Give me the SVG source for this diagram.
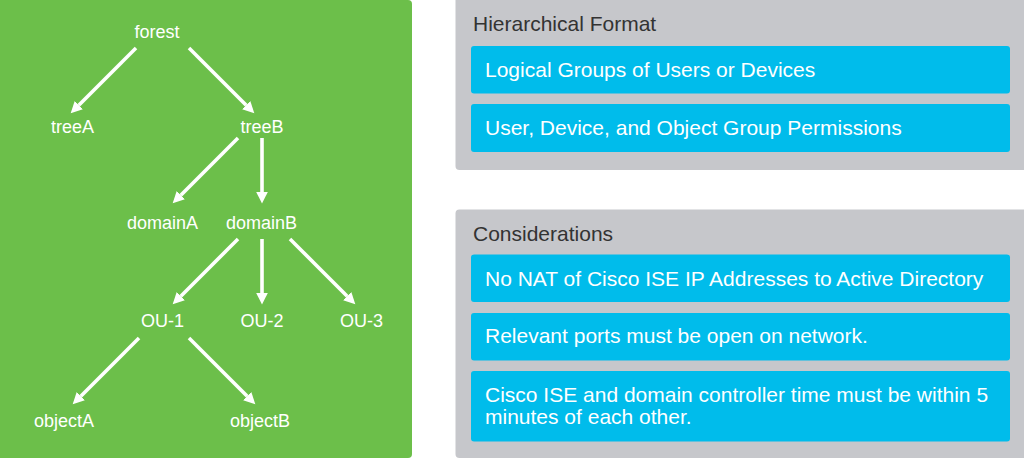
<svg xmlns="http://www.w3.org/2000/svg" width="1024" height="459" viewBox="0 0 1024 459">
<style>
.node{font-family:"Liberation Sans",Arial,sans-serif;font-size:18px;fill:#ffffff;text-anchor:middle}
.head{font-family:"Liberation Sans",Arial,sans-serif;font-size:21px;fill:#333333}
.item{font-family:"Liberation Sans",Arial,sans-serif;font-size:21px;fill:#ffffff}
.panel{fill:#c6c7cb}
.box{fill:#00bceb}
.conn line{stroke:#ffffff;stroke-width:3.6;fill:none;marker-end:url(#ah)}
</style>
<defs>
<marker id="ah" markerUnits="userSpaceOnUse" markerWidth="14" markerHeight="14" viewBox="0 -7 14 14" refX="0" refY="0" orient="auto">
<path d="M0,-5.8 L11.5,0 L0,5.8 Z" fill="#ffffff"/>
</marker>
</defs>
<rect x="-5" y="0" width="417" height="458" rx="4" fill="#6cbf4a"/>
<g id="connectors" class="conn">
<line x1="136" y1="48" x2="78.8" y2="105.2"/>
<line x1="189" y1="48" x2="246.2" y2="105.2"/>
<line x1="238" y1="138" x2="180.8" y2="195.2"/>
<line x1="262" y1="138" x2="262" y2="192"/>
<line x1="238" y1="239" x2="180.8" y2="296.2"/>
<line x1="262" y1="239" x2="262" y2="293"/>
<line x1="290" y1="239" x2="347.2" y2="296.2"/>
<line x1="139" y1="338" x2="80.8" y2="396.2"/>
<line x1="189" y1="338" x2="247.2" y2="396.2"/>
</g>
<g id="forest"><text class="node" x="157" y="38">forest</text></g>
<g id="treeA"><text class="node" x="72.5" y="133">treeA</text></g>
<g id="treeB"><text class="node" x="262" y="133">treeB</text></g>
<g id="domainA"><text class="node" x="162.5" y="229">domainA</text></g>
<g id="domainB"><text class="node" x="261.5" y="229">domainB</text></g>
<g id="OU-1"><text class="node" x="162.5" y="327">OU-1</text></g>
<g id="OU-2"><text class="node" x="262" y="327">OU-2</text></g>
<g id="OU-3"><text class="node" x="361.5" y="327">OU-3</text></g>
<g id="objectA"><text class="node" x="64" y="427">objectA</text></g>
<g id="objectB"><text class="node" x="260" y="427">objectB</text></g>
<g id="hierarchical-format">
<rect class="panel" x="455.5" y="-5" width="575" height="175" rx="4"/>
<text class="head" x="473" y="31">Hierarchical Format</text>
<rect class="box" x="471" y="46" width="539" height="47.5" rx="3"/>
<text class="item" x="485" y="77">Logical Groups of Users or Devices</text>
<rect class="box" x="471" y="104" width="539" height="48" rx="3"/>
<text class="item" x="485" y="135">User, Device, and Object Group Permissions</text>
</g>
<g id="considerations">
<rect class="panel" x="455.5" y="209.5" width="575" height="248.5" rx="4"/>
<text class="head" x="473" y="241">Considerations</text>
<rect class="box" x="471" y="254.5" width="539" height="47.5" rx="3"/>
<text class="item" x="485" y="286">No NAT of Cisco ISE IP Addresses to Active Directory</text>
<rect class="box" x="471" y="313" width="539" height="47.5" rx="3"/>
<text class="item" x="485" y="343">Relevant ports must be open on network.</text>
<rect class="box" x="471" y="371" width="539" height="70.5" rx="3"/>
<text class="item" x="485" y="401.5">Cisco ISE and domain controller time must be within 5</text>
<text class="item" x="485" y="424">minutes of each other.</text>
</g>
</svg>
